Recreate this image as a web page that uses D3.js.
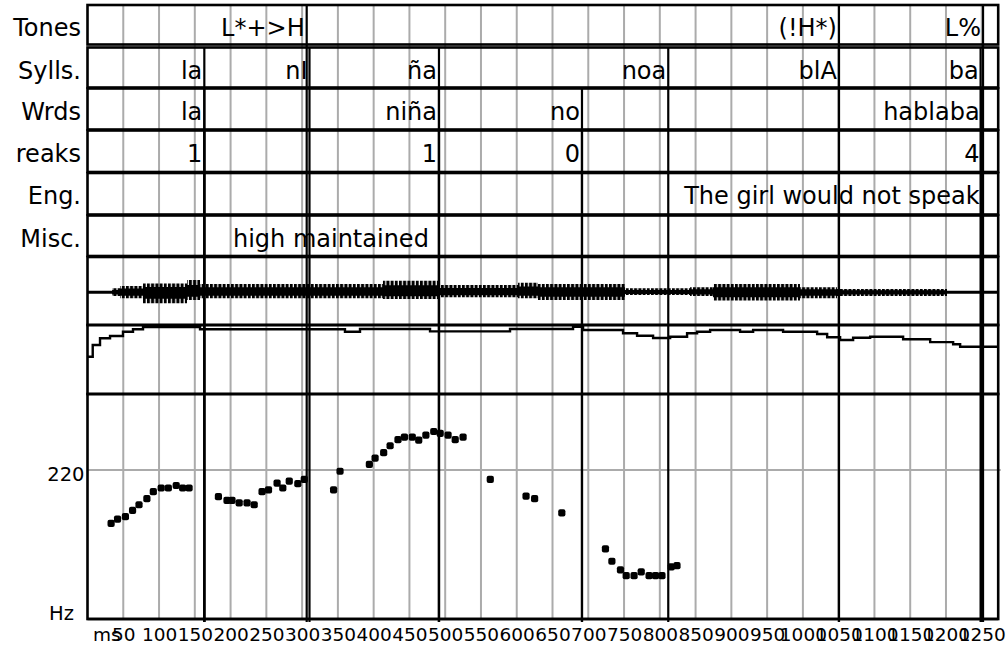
<!DOCTYPE html>
<html>
<head>
<meta charset="utf-8">
<script src="https://cdn.jsdelivr.net/npm/d3@7"></script>
<style>
  html, body { margin: 0; padding: 0; background: #fff; }
  svg { display: block; font-family: "DejaVu Sans", "Noto Sans", sans-serif; }
</style>
</head>
<body>
<svg id="chart" width="1008" height="650"></svg>
<script>
// ---- Annotation tiers: each label sits just left of the time (ms) where its interval ends ----
const tierNames = ["Tones", "Sylls.", "Wrds", "reaks", "Eng.", "Misc."];

const toneTimes = [306.4, 1050.4, 1251.8];
const toneLabels = ["L*+>H", "(!H*)", "L%"];

const syllTimes = [163.3, 310.3, 491.3, 811.8, 1050.4, 1248.4];
const syllLabels = ["la", "nI", "ña", "noa", "blA", "ba"];

const wordTimes = [163.3, 491.3, 691.2, 1249.8];
const wordLabels = ["la", "niña", "no", "hablaba"];

const breakTimes = [163.3, 491.3, 691.2, 1249.8];
const breakLabels = ["1", "1", "0", "4"];

const engTimes = [1249.8];
const engLabels = ["The girl would not speak"];

const miscTimes = [480];
const miscLabels = ["high maintained"];

// ---- F0 track (ms, Hz) ----
const f0Times = [33, 42, 53, 63, 72, 83, 92, 103, 113, 124, 133, 142,
  183, 195, 202, 212, 223, 233, 244, 253, 265, 273, 282, 294, 303,
  344, 353, 394, 402, 414, 423, 434, 443, 454, 463, 473, 484, 493, 504, 514, 525,
  563, 613, 625, 663,
  724, 733, 745, 753, 764, 774, 785, 794, 803, 816, 824];
const f0Hz = [177, 180.5, 182.5, 187.5, 192, 197, 202.5, 205.5, 205.5, 207.5, 205.5, 205.5,
  198.5, 195.5, 195.5, 193.5, 193.5, 192, 202.5, 204, 209.5, 205.5, 211, 209, 212.5,
  204, 219, 224.5, 229.5, 234, 239.5, 244.5, 246.5, 246.5, 244, 248, 251, 249.5, 248, 244.5, 246.5,
  212.5, 199, 197, 185.5,
  156.5, 146.5, 139.5, 135, 135, 138, 135, 135, 135, 142, 143];

// ---- Intensity contour (ms, dB), each value held until the next time ----
const intTimes = [0, 7.3, 17.5, 31.5, 49.6, 63.6, 77.6, 157.3, 359.9, 380.9, 478.8, 590.6,
  678.7, 692.7, 748.6, 768.2, 790.6, 814.4, 838.1, 852.1, 870.3, 912.2, 930.4, 972.3,
  1019.9, 1033.9, 1052.0, 1070.2, 1094.0, 1140.1, 1177.9, 1210.0, 1219.8, 1273];
const intDb = [61.6, 68.4, 72.3, 73.6, 76.1, 77.5, 78.8, 77.5, 76.1, 77.7, 76.3, 77.7,
  79.0, 77.1, 75.2, 73.8, 72.5, 73.2, 75.2, 76.1, 77.1, 76.1, 77.1, 76.1,
  74.8, 72.9, 71.3, 72.6, 73.2, 71.7, 70.1, 68.8, 67.4, 67.4];

// ---- Waveform amplitude envelope (ms, upper, lower), each value held until the next time ----
const envTimes = [34.4, 45.4, 77.6, 139.1, 157.3, 413, 490, 601.8, 629.7, 751.3, 842.2, 874.3, 995.9, 1047.6, 1201.4];
const envUpper = [0.12, 0.19, 0.27, 0.37, 0.25, 0.35, 0.22, 0.29, 0.25, 0.12, 0.15, 0.25, 0.15, 0.10, 0];
const envLower = [-0.11, -0.18, -0.33, -0.23, -0.18, -0.20, -0.15, -0.18, -0.23, -0.08, -0.11, -0.25, -0.18, -0.11, 0];

// ---- Axis ticks ----
const timeTicks = [50, 100, 150, 200, 250, 300, 350, 400, 450, 500, 550, 600, 650, 700,
  750, 800, 850, 900, 950, 1000, 1050, 1100, 1150, 1200, 1250];
const hzTicks = [220];

// ---- Layout ----
const L = 87.5, R = 998.2;
const tierRows = [[5, 44.5], [47.5, 87.5], [88.5, 129.5], [130.5, 172], [173, 214.5], [215.5, 256]];
const wave = [257, 325], inten = [325, 394], pitch = [394, 619];
const GRID = "#ababab";
const LABEL_SIZE = 24;

const svg = d3.select("#chart");
const x = d3.scaleLinear().domain([0, 1273]).range([L, R]);
const yWave = d3.scaleLinear().domain([-1, 1]).range([325.3, 259.3]);
const yInt = d3.scaleLinear().domain([40, 80]).range([inten[1], inten[0]]);
const yF0 = d3.scaleLinear().domain([100, 282]).range([pitch[1], 393]);

svg.append("rect").attr("width", 1008).attr("height", 650).attr("fill", "#fff");

// Vertical stripe pattern that gives the waveform its pulse texture
const defs = svg.append("defs");
defs.append("pattern").attr("id", "pulses")
  .attr("patternUnits", "userSpaceOnUse").attr("width", 4.2).attr("height", 10)
  .append("rect").attr("width", 3).attr("height", 10).attr("fill", "#000");

// Gray time grid across all tiers and panels
svg.append("g").selectAll("line").data(timeTicks).join("line")
  .attr("x1", d => x(d)).attr("x2", d => x(d))
  .attr("y1", tierRows[0][0]).attr("y2", pitch[1])
  .attr("stroke", GRID).attr("stroke-width", 2);

// Gray frequency grid
svg.append("g").selectAll("line").data(hzTicks).join("line")
  .attr("x1", L).attr("x2", R + 2.5)
  .attr("y1", d => yF0(d)).attr("y2", d => yF0(d))
  .attr("stroke", GRID).attr("stroke-width", 2);

// Tier boxes and signal panels
const boxes = tierRows.concat([wave, inten, pitch]);
svg.append("g").selectAll("rect").data(boxes).join("rect")
  .attr("x", L).attr("y", d => d[0])
  .attr("width", R - L).attr("height", d => d[1] - d[0])
  .attr("fill", "none").attr("stroke", "#000").attr("stroke-width", 2.6);

// Boundary lines: each tier's boundaries run from its own row down to the time axis
const boundaryTiers = [
  { times: toneTimes, row: 0 },
  { times: syllTimes, row: 1 },
  { times: wordTimes, row: 2 },
  { times: breakTimes, row: 3 }
];
boundaryTiers.forEach(t => {
  svg.append("g").selectAll("line").data(t.times).join("line")
    .attr("x1", d => x(d)).attr("x2", d => x(d))
    .attr("y1", tierRows[t.row][0]).attr("y2", pitch[1] + 3)
    .attr("stroke", "#000").attr("stroke-width", 2.2);
});

// Waveform: baseline, pulse-textured envelope and a solid core
svg.append("line")
  .attr("x1", L).attr("x2", R).attr("y1", yWave(0)).attr("y2", yWave(0))
  .attr("stroke", "#000").attr("stroke-width", 3);
const envData = envTimes.map((t, i) => ({ t, u: envUpper[i], l: envLower[i] }));
const envArea = k => d3.area()
  .x(d => x(d.t)).y0(d => yWave(d.l * k)).y1(d => yWave(d.u * k))
  .curve(d3.curveStepAfter);
svg.append("path").datum(envData).attr("d", envArea(1)).attr("fill", "url(#pulses)");
svg.append("path").datum(envData).attr("d", envArea(0.6)).attr("fill", "#000");

// Intensity contour
const intData = intTimes.map((t, i) => ({ t, v: intDb[i] }));
svg.append("path").datum(intData)
  .attr("d", d3.line().x(d => x(d.t)).y(d => yInt(d.v)).curve(d3.curveStepAfter))
  .attr("fill", "none").attr("stroke", "#000").attr("stroke-width", 2.4);

// F0 points
const f0Data = f0Times.map((t, i) => ({ t, v: f0Hz[i] }));
svg.append("g").selectAll("rect").data(f0Data).join("rect")
  .attr("x", d => x(d.t) - 3.6).attr("y", d => yF0(d.v) - 3.6)
  .attr("width", 7.2).attr("height", 7.2).attr("rx", 2)
  .attr("fill", "#000");

// Time axis (line + tick labels)
svg.append("line").attr("x1", L).attr("x2", R).attr("y1", pitch[1]).attr("y2", pitch[1])
  .attr("stroke", "#000").attr("stroke-width", 2.6);
const xAxis = svg.append("g").attr("transform", `translate(0,${pitch[1]})`)
  .call(d3.axisBottom(x).tickValues(timeTicks).tickSize(0).tickPadding(9).tickFormat(d3.format("d")));
xAxis.select(".domain").remove();
xAxis.selectAll("text").attr("font-size", 18.5).attr("font-family", "DejaVu Sans").attr("fill", "#000");
svg.append("text").attr("x", 93).attr("y", 641).attr("font-size", 18.5).text("ms");

// Frequency axis label
const yAxis = svg.append("g").attr("transform", `translate(${L},0)`)
  .call(d3.axisLeft(yF0).tickValues(hzTicks).tickSize(0).tickPadding(3));
yAxis.select(".domain").remove();
yAxis.selectAll("text").attr("font-size", 19.5).attr("font-family", "DejaVu Sans")
  .attr("dy", "0.56em").attr("fill", "#000");
svg.append("text").attr("x", 49).attr("y", 620).attr("font-size", 19.5).text("Hz");

// Tier names
svg.append("g").selectAll("text").data(tierNames).join("text")
  .attr("x", 81).attr("y", (d, i) => tierRows[i][0] + 31)
  .attr("text-anchor", "end").attr("font-size", LABEL_SIZE).text(d => d);

// Tier labels, right-aligned at their end times
const labelTiers = [
  [toneTimes, toneLabels], [syllTimes, syllLabels], [wordTimes, wordLabels],
  [breakTimes, breakLabels], [engTimes, engLabels], [miscTimes, miscLabels]
];
labelTiers.forEach(([times, labels], row) => {
  svg.append("g").selectAll("text").data(times).join("text")
    .attr("x", d => x(d) - 2).attr("y", tierRows[row][0] + 31)
    .attr("text-anchor", "end").attr("font-size", LABEL_SIZE)
    .text((d, i) => labels[i]);
});
</script>
</body>
</html>
